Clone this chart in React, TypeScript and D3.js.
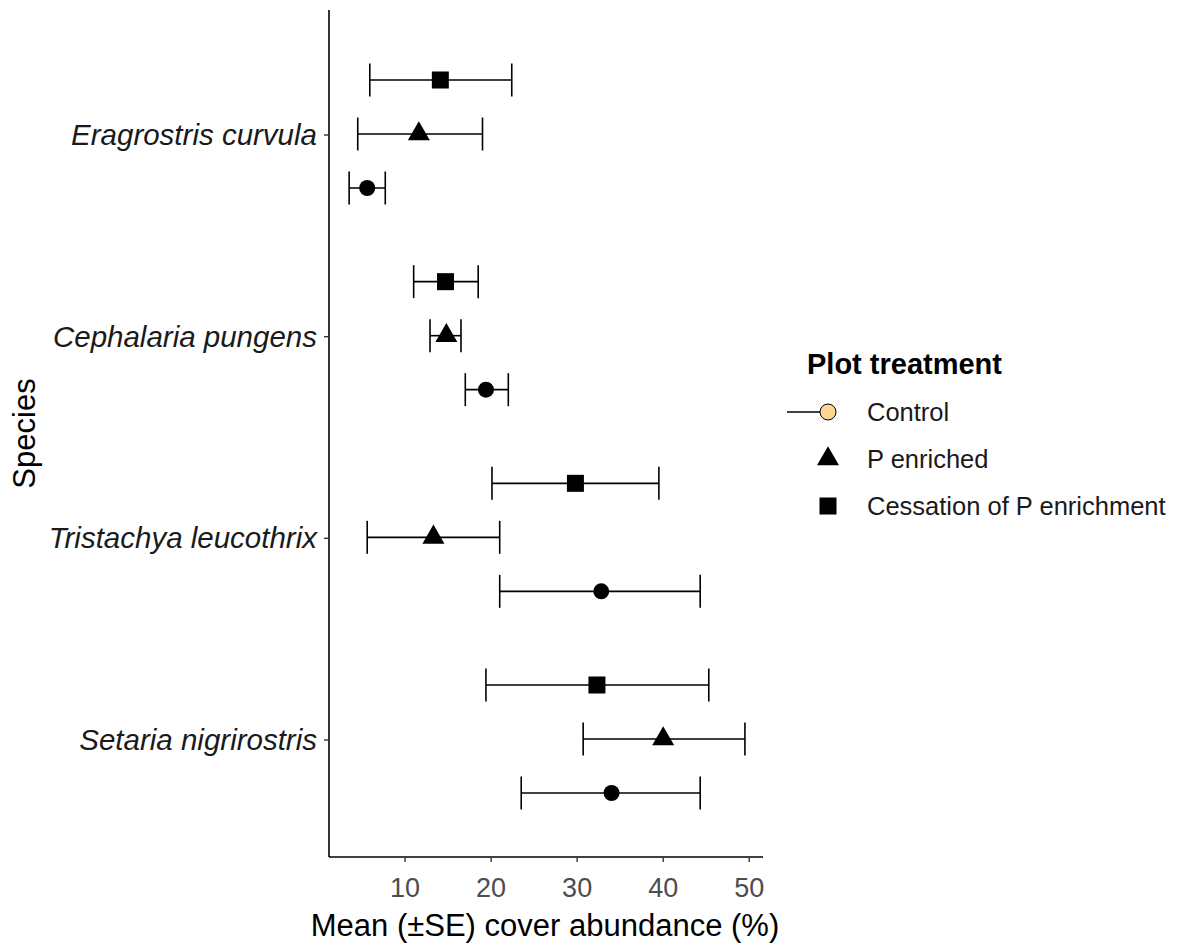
import React from 'react';
import * as d3 from 'd3';

// species listed top to bottom as in the plot
const species = ['Eragrostris curvula', 'Cephalaria pungens', 'Tristachya leucothrix', 'Setaria nigrirostris'];
const treatments = ['Cessation of P enrichment', 'P enriched', 'Control'];
const legendOrder = ['Control', 'P enriched', 'Cessation of P enrichment'];

// mean, lower, upper per species (same order as species)
const controlMean = [5.6, 19.4, 32.8, 34.0];
const controlLow = [3.5, 17.0, 21.0, 23.5];
const controlHigh = [7.7, 22.0, 44.3, 44.3];

const enrichedMean = [11.6, 14.8, 13.3, 40.0];
const enrichedLow = [4.5, 12.9, 5.6, 30.7];
const enrichedHigh = [19.0, 16.5, 21.0, 49.5];

const cessationMean = [14.1, 14.7, 29.8, 32.3];
const cessationLow = [5.9, 11.0, 20.1, 19.4];
const cessationHigh = [22.4, 18.5, 39.5, 45.3];

const xTicks = [10, 20, 30, 40, 50];

const series: Record<string, { mean: number[]; low: number[]; high: number[] }> = {
  Control: { mean: controlMean, low: controlLow, high: controlHigh },
  'P enriched': { mean: enrichedMean, low: enrichedLow, high: enrichedHigh },
  'Cessation of P enrichment': { mean: cessationMean, low: cessationLow, high: cessationHigh },
};

const W = 1179;
const H = 947;
const panel = { left: 329, right: 763, top: 10, bottom: 857 };
const font = 'Liberation Sans, Arial, sans-serif';

function Marker({ kind, x, y, fill = '#000' }: { kind: string; x: number; y: number; fill?: string }) {
  if (kind === 'Control') {
    return <circle cx={x} cy={y} r={8} fill={fill} stroke="#000" strokeWidth={fill === '#000' ? 0 : 1} />;
  }
  if (kind === 'P enriched') {
    const p = d3.symbol(d3.symbolTriangle, 210)();
    return <path d={p ?? ''} transform={`translate(${x},${y})`} fill="#000" />;
  }
  return <rect x={x - 8.5} y={y - 8.5} width={17} height={17} fill="#000" />;
}

export default function App() {
  const x = d3.scaleLinear().domain([1.16, 51.6]).range([panel.left, panel.right]);
  const y = d3.scalePoint<string>().domain(species).range([panel.top + 4, panel.bottom + 4]).padding(0.6);
  const dodge = d3.scalePoint<string>().domain(treatments).range([-55, 53]);

  return (
    <svg width={W} height={H} style={{ position: 'absolute', left: 0, top: 0, background: '#fff' }} fontFamily={font}>
      {/* error bars + points */}
      {treatments.map((t) =>
        species.map((s, i) => {
          const d = series[t];
          const cy = (y(s) ?? 0) + (dodge(t) ?? 0);
          return (
            <g key={t + s}>
              <line x1={x(d.low[i])} x2={x(d.high[i])} y1={cy} y2={cy} stroke="#000" strokeWidth={1.6} />
              <line x1={x(d.low[i])} x2={x(d.low[i])} y1={cy - 16.5} y2={cy + 16.5} stroke="#000" strokeWidth={1.6} />
              <line x1={x(d.high[i])} x2={x(d.high[i])} y1={cy - 16.5} y2={cy + 16.5} stroke="#000" strokeWidth={1.6} />
              <Marker kind={t} x={x(d.mean[i])} y={cy} />
            </g>
          );
        })
      )}

      {/* axes */}
      <line x1={panel.left} x2={panel.left} y1={panel.top} y2={panel.bottom} stroke="#000" strokeWidth={1.6} />
      <line x1={panel.left} x2={panel.right} y1={panel.bottom} y2={panel.bottom} stroke="#000" strokeWidth={1.6} />
      {xTicks.map((t) => (
        <g key={t}>
          <line x1={x(t)} x2={x(t)} y1={panel.bottom} y2={panel.bottom + 5} stroke="#333" strokeWidth={1.4} />
          <text x={x(t)} y={panel.bottom + 40} textAnchor="middle" fontSize={27} fill="#4d4d4d">{t}</text>
        </g>
      ))}
      {species.map((s) => (
        <g key={s}>
          <line x1={panel.left - 5} x2={panel.left} y1={y(s)} y2={y(s)} stroke="#333" strokeWidth={1.4} />
          <text x={panel.left - 12} y={(y(s) ?? 0) + 10} textAnchor="end" fontSize={29.5} fontStyle="italic" fill="#1a1a1a">{s}</text>
        </g>
      ))}

      <text x={545} y={936} textAnchor="middle" fontSize={31} fill="#000">Mean (±SE) cover abundance (%)</text>
      <text transform={`translate(35,${(panel.top + panel.bottom) / 2}) rotate(-90)`} textAnchor="middle" fontSize={31} fill="#000">Species</text>

      {/* legend */}
      <g>
        <text x={807} y={374} fontSize={29} fontWeight="bold" fill="#000">Plot treatment</text>
        {legendOrder.map((t, i) => {
          const ly = 412 + i * 47;
          return (
            <g key={t}>
              {t === 'Control' && <line x1={787} x2={820} y1={ly} y2={ly} stroke="#000" strokeWidth={1.4} />}
              <Marker kind={t} x={828} y={ly} fill={t === 'Control' ? '#ffd58f' : '#000'} />
              <text x={867} y={ly + 9} fontSize={25.5} fill="#1a1a1a">{t}</text>
            </g>
          );
        })}
      </g>
    </svg>
  );
}
